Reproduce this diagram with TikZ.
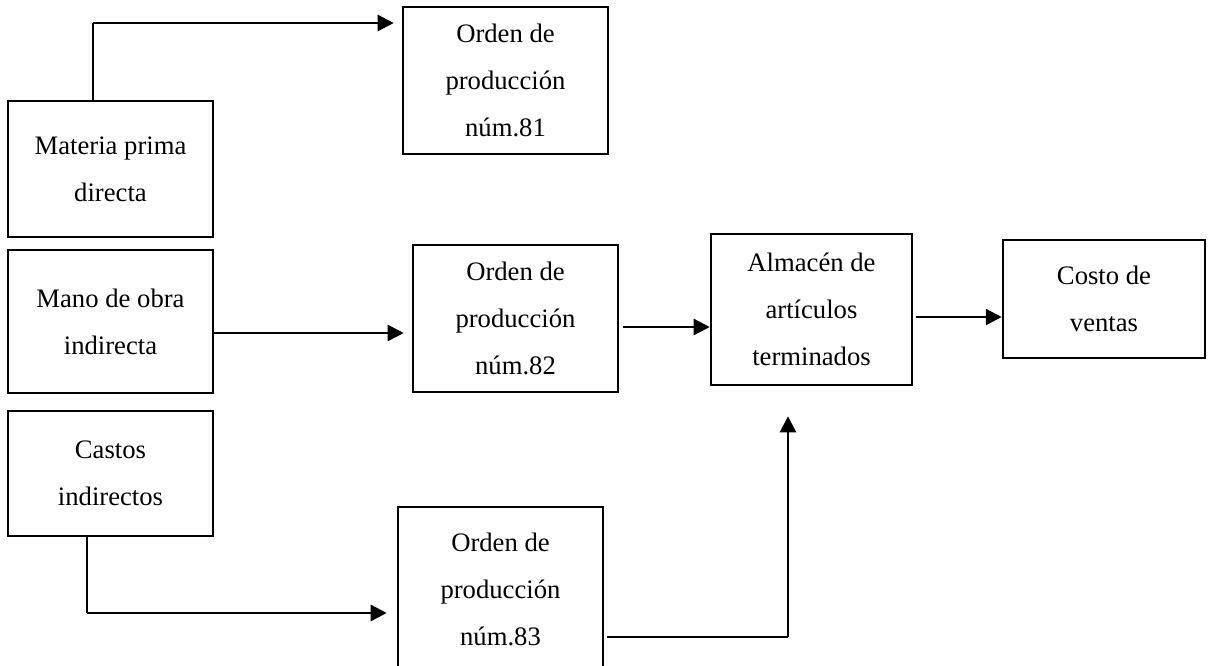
\documentclass[tikz,border=0pt]{standalone}
\usepackage{fontspec}
\setmainfont{Liberation Serif}
\usetikzlibrary{arrows.meta}
\tikzset{
  box/.style={draw, line width=1.9pt, inner sep=0pt, align=center,
    font=\fontsize{20pt}{35.25pt}\selectfont},
  thinline/.style={line width=0.9pt},
  arr/.style={line width=1.8pt, -{Triangle[length=12pt,width=12pt]}},
}
\begin{document}
\begin{tikzpicture}[x=0.75pt,y=-0.75pt]
\useasboundingbox (0,0) rectangle (1219,665);
\clip (0,0) rectangle (1219,665);
\node[box, minimum width=153.75pt, minimum height=102pt] (mat) at (110.5,169) {Materia prima\\directa};
\node[box, minimum width=153.75pt, minimum height=107.25pt] (mano) at (110.5,321.5) {Mano de obra\\indirecta};
\node[box, minimum width=153.75pt, minimum height=93.75pt] (cas) at (110.5,473.5) {Castos\\indirectos};
\node[box, minimum width=153.75pt, minimum height=110.25pt] (o81) at (505.5,80.5) {Orden de\\producción\\núm.81};
\node[box, minimum width=153.75pt, minimum height=110.25pt] (o82) at (515.5,318.5) {Orden de\\producción\\núm.82};
\node[box, minimum width=153.75pt, minimum height=123.75pt] (o83) at (500.5,589.5) {Orden de\\producción\\núm.83};
\node[box, minimum width=150.75pt, minimum height=113.25pt] (alm) at (811.5,309.5) {Almacén de\\artículos\\terminados};
\node[box, minimum width=151.5pt, minimum height=88.5pt] (cos) at (1104,299) {Costo de\\ventas};

\coordinate (c1) at (93,23);
\draw[thinline] (mat.north -| c1) -- (c1);
\draw[arr, shorten >=6pt] (c1) -- (o81.west |- c1);

\coordinate (m1) at (0,333);
\draw[arr, shorten >=6pt] (mano.east |- m1) -- (o82.west |- m1);

\coordinate (m2) at (0,327);
\draw[arr, shorten <=3pt] (o82.east |- m2) -- (alm.west |- m2);

\coordinate (m3) at (0,317);
\draw[arr, shorten <=2.25pt] (alm.east |- m3) -- (cos.west |- m3);

\coordinate (c3) at (87,613);
\draw[thinline] (cas.south -| c3) -- (c3);
\draw[arr, shorten >=7.5pt] (c3) -- (o83.west |- c3);

\coordinate (c4) at (788,637);
\draw[thinline, shorten <=2.25pt] (o83.east |- c4) -- (c4);
\draw[arr, shorten >=22.5pt] (c4) -- (alm.south -| c4);
\end{tikzpicture}
\end{document}
